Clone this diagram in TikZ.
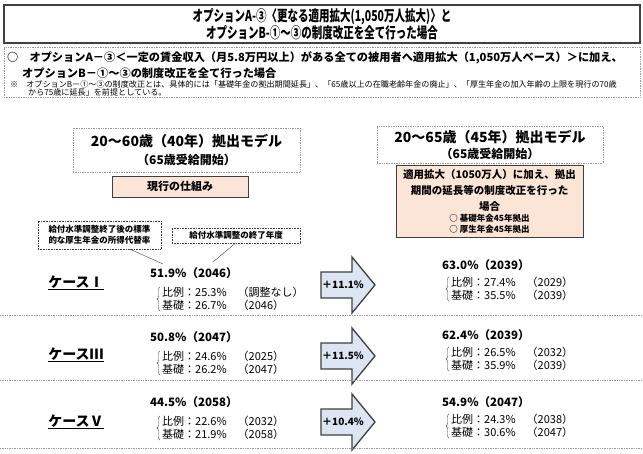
\documentclass[tikz,border=0pt]{standalone}
\usepackage{fontspec}
\setmainfont{Noto Sans CJK JP}
\newfontfamily\narrowjp[FakeStretch=0.7]{Noto Sans CJK JP}
\usetikzlibrary{positioning,decorations.pathreplacing}

\definecolor{peach}{HTML}{FBE5D6}
\definecolor{paleblue}{HTML}{DCE6F2}
\definecolor{darkline}{HTML}{3F3F3F}

\tikzset{
  dotbox/.style={draw=gray!80, densely dotted, line width=0.7pt},
  peachbox/.style={draw=darkline, fill=peach, line width=0.9pt},
  notebox/.style={draw=darkline, densely dotted, line width=0.6pt, align=center, font=\bfseries\fontsize{8.5}{11}\selectfont},
  sepline/.style={draw=gray!80, densely dotted, line width=0.7pt},
  bigarrow/.style={draw=darkline, fill=paleblue, line width=1.3pt, line join=miter},
  mainrate/.style={anchor=west, font=\bfseries\fontsize{11.5}{13}\selectfont},
  subline/.style={anchor=west, align=left, font=\fontsize{11}{13.5}\selectfont},
  casename/.style={font=\bfseries\fontsize{14}{16}\selectfont},
  bracepath/.style={draw=darkline, decorate, decoration={brace, amplitude=3pt}},
  every node/.style={inner sep=0pt}
}

\begin{document}
\begin{tikzpicture}[x=1pt,y=-1pt]
  \useasboundingbox (0,0) rectangle (643,453);

  % Title
  \node[draw=darkline, line width=1.2pt, minimum width=636pt, minimum height=38pt, align=center,
        font=\narrowjp\bfseries\fontsize{15}{16}\selectfont] (title) at (322,24)
        {オプションA-③〈更なる適用拡大(1,050万人拡大)〉と\\オプションB-①～③の制度改正を全て行った場合};

  % Outline of the option
  \node[dotbox, minimum width=636pt, minimum height=50pt] (info) at (322,72) {};
  \node[anchor=west, font=\bfseries\fontsize{11.2}{13}\selectfont] (optA) at (7,58)
        {○　オプションA－③＜一定の賃金収入（月5.8万円以上）がある全ての被用者へ適用拡大（1,050万人ベース）＞に加え、};
  \node[anchor=west, font=\bfseries\fontsize{11.2}{13}\selectfont] (optB) at (22,73)
        {オプションB－①～③の制度改正を全て行った場合};
  \node[anchor=west, font=\fontsize{8.1}{10}\selectfont] (remA) at (10,84)
        {※　オプションB－①～③の制度改正とは、具体的には「基礎年金の拠出期間延長」、「65歳以上の在職老齢年金の廃止」、「厚生年金の加入年齢の上限を現行の70歳};
  \node[anchor=west, font=\fontsize{8.1}{10}\selectfont] (remB) at (28,92)
        {から75歳に延長」を前提としている。};

  % Model headings
  \node[dotbox, minimum width=227pt, minimum height=44pt, align=center,
        font=\bfseries\fontsize{14}{18}\selectfont] (modelL) at (186.5,150)
        {20～60歳（40年）拠出モデル\\{\fontsize{12}{14}\selectfont （65歳受給開始）}};
  \node[peachbox, minimum width=136pt, minimum height=21pt,
        font=\bfseries\fontsize{11}{13}\selectfont] (current) at (180,186.5) {現行の仕組み};

  \node[dotbox, minimum width=226pt, minimum height=37pt, align=center,
        font=\bfseries\fontsize{14}{16}\selectfont] (modelR) at (490,144.5)
        {20～65歳（45年）拠出モデル\\{\fontsize{12}{14}\selectfont （65歳受給開始）}};
  \node[peachbox, minimum width=187pt, minimum height=72pt, align=center,
        font=\bfseries\fontsize{10.5}{16}\selectfont] (reform) at (489.5,201)
        {適用拡大（1050万人）に加え、拠出\\期間の延長等の制度改正を行った\\場合\\[-5pt]
         {\fontsize{8.5}{10}\selectfont ○ 基礎年金45年拠出}\\[-5pt]
         {\fontsize{8.5}{10}\selectfont ○ 厚生年金45年拠出}};

  % Notes on the first case
  \node[notebox, minimum width=123pt, minimum height=28pt] (noteA) at (99.5,235)
        {給付水準調整終了後の標準\\的な厚生年金の所得代替率};
  \node[notebox, minimum width=128pt, minimum height=15pt] (noteB) at (236,235.5)
        {給付水準調整の終了年度};
  \coordinate (tipA) at (163,264);
  \coordinate (tipB) at (213,262);
  \draw[darkline] (noteA.335) -- (tipA);
  \draw[darkline] (noteB.265) -- (tipB);

  % Cases
  \foreach \n/\yl/\yr/\yc/\ya/\cn/\lt/\lp/\lb/\rt/\rp/\rb/\gain in {
    1/273/265/283/285/Ⅰ/51.9\%（2046）/25.3\%　（調整なし）/26.7\%　（2046）/63.0\%（2039）/27.4\%　（2029）/35.5\%　（2039）/11.1\%,
    2/337/335/355/356/Ⅲ/50.8\%（2047）/24.6\%　（2025）/26.2\%　（2047）/62.4\%（2039）/26.5\%　（2032）/35.9\%　（2039）/11.5\%,
    3/402/402/422/422/Ⅴ/44.5\%（2058）/22.6\%　（2032）/21.9\%　（2058）/54.9\%（2047）/24.3\%　（2038）/30.6\%　（2047）/10.4\%} {
    \node[casename] (case\n) at (76,\yc) {\underline{ケース\cn}};

    % current system
    \node[mainrate] (left\n) at (150,\yl) {\lt};
    \node[subline] (leftsub\n) at (162,\yl+26) {比例：\lp\\基礎：\lb};
    \draw[bracepath] ([xshift=-2pt]leftsub\n.south west) -- ([xshift=-2pt]leftsub\n.north west);

    % arrow with the gain
    \draw[bigarrow] (321,\ya-13) -- (352,\ya-13) -- (352,\ya-28) -- (375,\ya)
                    -- (352,\ya+28) -- (352,\ya+13) -- (321,\ya+13) -- cycle;
    \node[anchor=west, font=\bfseries\fontsize{10}{11}\selectfont] (gain\n) at (322,\ya) {＋\gain};

    % after the reform
    \node[mainrate] (right\n) at (442,\yr) {\rt};
    \node[subline] (rightsub\n) at (451,\yr+24) {比例：\rp\\基礎：\rb};
    \draw[bracepath] ([xshift=-2pt]rightsub\n.south west) -- ([xshift=-2pt]rightsub\n.north west);
  }

  % Row separators
  \foreach \y in {315,380,448}
    \draw[sepline] (0,\y) -- (643,\y);
\end{tikzpicture}
\end{document}
